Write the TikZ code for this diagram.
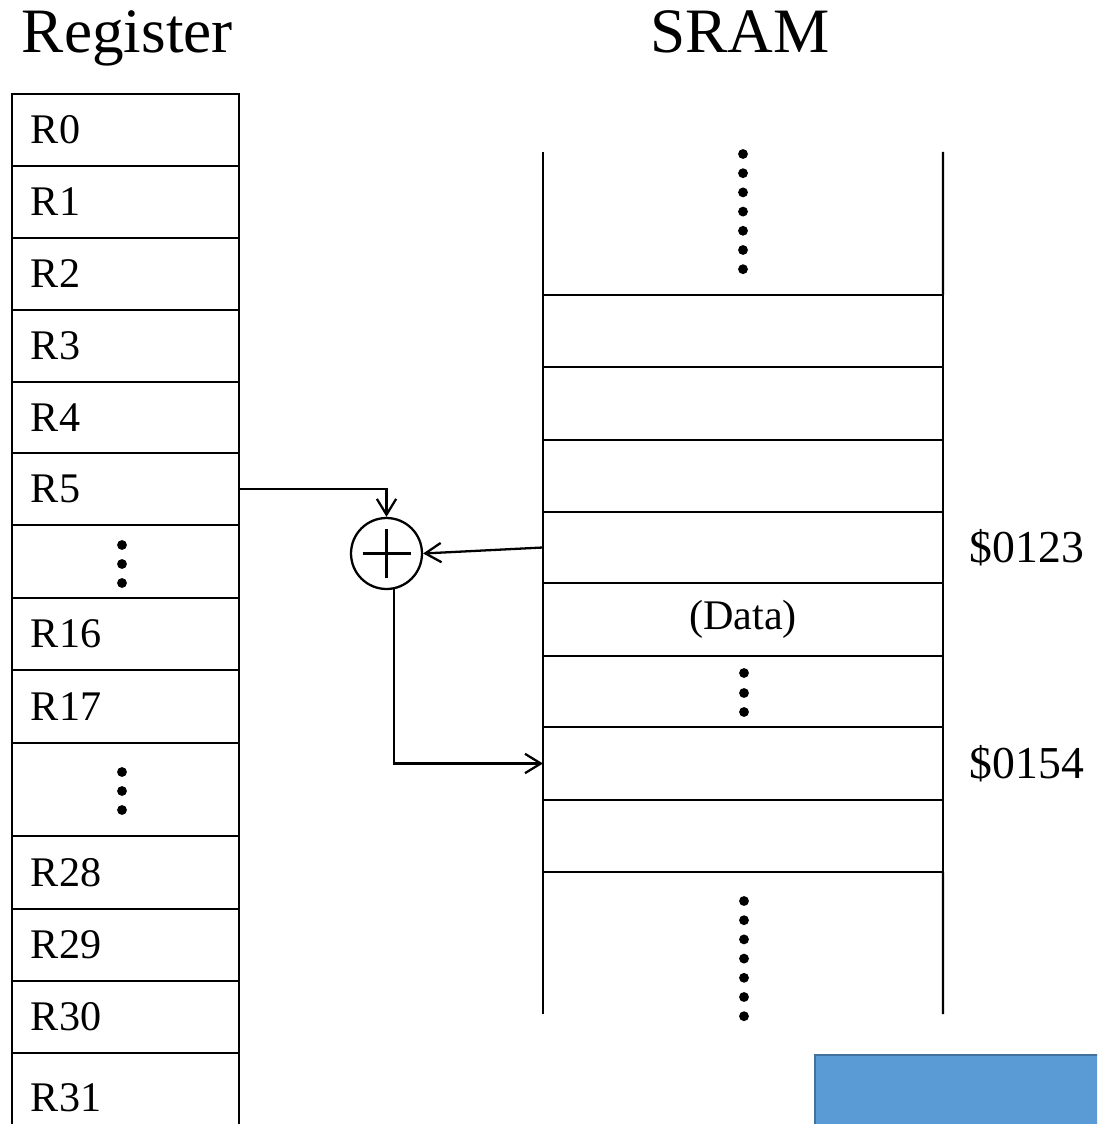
\documentclass[tikz,border=0pt]{standalone}
\usepackage{fontspec}
\setmainfont{Liberation Serif}
\usetikzlibrary{arrows.meta, positioning}
\definecolor{boxblue}{HTML}{5B9BD5}
\definecolor{boxedge}{HTML}{41719C}

\begin{document}
\begin{tikzpicture}[x=0.02cm, y=-0.02cm, line width=1.3pt, >={Straight Barb[length=9pt,width=11pt]}]
  \clip (0,0) rectangle (1097,1124);
  \tikzset{
    regcell/.style={draw, anchor=north west, outer sep=0pt, inner xsep=0.38cm,
      inner ysep=0pt, text width=3.78cm, align=left, font=\fontsize{24}{28}\selectfont},
    memcell/.style={draw, anchor=north west, outer sep=0pt, minimum width=8cm,
      inner sep=0pt, font=\fontsize{24}{28}\selectfont},
    addr/.style={anchor=west, font=\fontsize{26}{30}\selectfont},
    title/.style={anchor=base west, font=\fontsize{36}{40}\selectfont}
  }

  \node[title] (regtitle) at (15,53) {Register};
  \node[title] (sramtitle) at (643,53) {SRAM};

  % register file
  \foreach \name/\lbl/\top/\h in {r0/R0/94/72, r1/R1/166/72, r2/R2/238/72,
      r3/R3/310/72, r4/R4/382/71, r5/R5/453/72, rd1//525/73, r16/R16/598/72,
      r17/R17/670/73, rd2//743/93, r28/R28/836/73, r29/R29/909/72,
      r30/R30/981/72, r31/R31/1053/90}
    \node[regcell, minimum height=\h*0.02cm] (\name) at (12,\top) {\lbl};
  \foreach \y in {545,564,583} \fill (122,\y) circle (2.8pt);
  \foreach \y in {772,791,810} \fill (122,\y) circle (2.8pt);

  % SRAM
  \foreach \name/\top/\h in {s1/295/72, s2/367/73, s3/440/72, s4/512/71,
      s5/583/73, s6/656/71, s7/727/73, s8/800/72}
    \node[memcell, minimum height=\h*0.02cm] (\name) at (543,\top) {};
  \draw (543,152) -- (s1.north west);
  \draw (943,152) -- (s1.north east);
  \draw (s8.south west) -- (543,1014);
  \draw (s8.south east) -- (943,1014);
  \foreach \i in {0,...,6} \fill (743,154+19.2*\i) circle (2.8pt);
  \foreach \i in {0,...,6} \fill (744,901+19.2*\i) circle (2.8pt);
  \foreach \y in {673,693,712} \fill (744,\y) circle (2.8pt);
  \node[font=\fontsize{24}{28}\selectfont] (data) at (s5.center) {(Data)};

  \node[addr] (a0123) at ([xshift=0.4cm]s4.east) {\$0123};
  \node[addr] (a0154) at ([xshift=0.4cm]s7.east) {\$0154};

  % adder
  \node[draw, circle, minimum size=1.42cm, inner sep=0pt] (add) at (386.5,553.5) {};
  \draw ([xshift=-0.48cm]add.center) -- ([xshift=0.48cm]add.center);
  \draw ([yshift=-0.5cm]add.center) -- ([yshift=0.5cm]add.center);

  \draw[->] (r5.east) -| (add.north);
  \draw[->] (s4.west) -- (add.east);
  \draw[->] (add.-78) |- (s7.west);

  \draw[boxedge, fill=boxblue, line width=1.5pt] (815,1055) rectangle (1120,1140);
\end{tikzpicture}
\end{document}
